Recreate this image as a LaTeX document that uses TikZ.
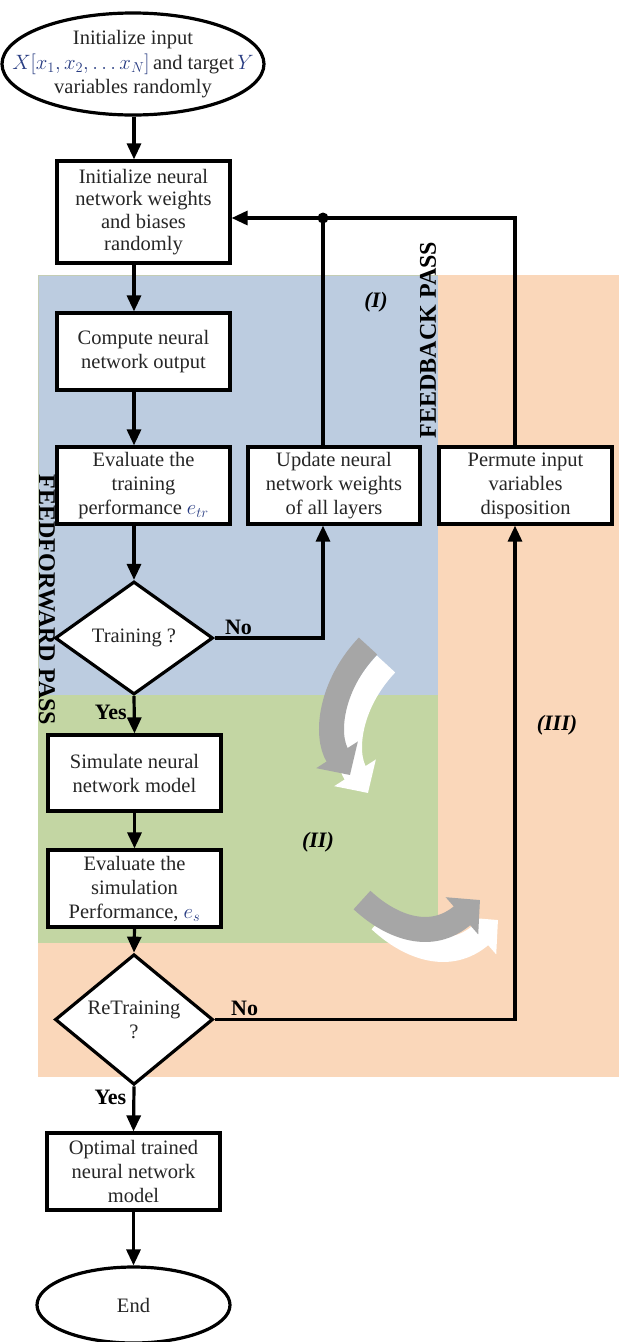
\documentclass[tikz,border=0pt]{standalone}
\usepackage{fontspec}
\setmainfont{Liberation Serif}
\usetikzlibrary{shapes.geometric,arrows.meta}
\definecolor{bluebg}{RGB}{188,204,224}
\definecolor{greenbg}{RGB}{195,214,163}
\definecolor{orangebg}{RGB}{250,215,186}
\definecolor{grayarr}{RGB}{166,166,166}
\definecolor{mathblue}{RGB}{40,60,130}
\begin{document}
\begin{tikzpicture}[x=1pt,y=-1pt,
  font=\fontsize{20.5}{24}\selectfont,
  box/.style={draw, line width=3.2pt, fill=white, minimum width=173pt, inner sep=0pt, align=center, text=black!85},
  dec/.style={draw, diamond, line width=3.2pt, fill=white, minimum width=158pt, minimum height=113pt, inner sep=0pt, align=center, text=black!85},
  term/.style={draw, ellipse, line width=3.2pt, fill=white, inner sep=0pt, align=center, text=black!85},
  arr/.style={line width=3.2pt, -{Triangle[length=16pt,width=14pt]}},
  conn/.style={line width=3.2pt},
  lab/.style={font=\fontsize{22}{24}\selectfont\bfseries, inner sep=2pt},
  reg/.style={font=\fontsize{22}{24}\selectfont\bfseries\itshape},
  pass/.style={font=\fontsize{24}{24}\selectfont\bfseries},
  bigarr/.style={line width=25pt, -{Triangle[length=24pt,width=48pt]}}
]
\useasboundingbox (0,0) rectangle (619,1342);
% background regions
\fill[orangebg] (38,275) rectangle (619,1077);
\fill[bluebg] (38,275) rectangle (438,695);
\draw[greenbg!80!black!60, line width=1pt] (38,695) -- (38,275) -- (438,275);
\fill[greenbg] (38,695) rectangle (438,943);
% curved arrows
\draw[bigarr, white] (386,664) .. controls (348,704) and (343,754) .. (368,793);
\draw[bigarr, grayarr] (368,646) .. controls (330,686) and (325,736) .. (350,775);
\draw[bigarr, white] (380,920) .. controls (410,948) and (450,962) .. (498,920);
\draw[bigarr, grayarr] (362,900) .. controls (392,928) and (432,942) .. (480,900);
% region labels
\node[reg] (r1) at (376,302) {(I)};
\node[reg] (r2) at (318,842) {(II)};
\node[reg] (r3) at (557,725) {(III)};
\node[pass, rotate=90] (fb) at (428,340) {FEEDBACK PASS};
\node[pass, rotate=-90] (ff) at (47,600) {FEEDFORWARD PASS};
% nodes
\node[term, minimum width=262pt, minimum height=102pt] (start) at (133,64) {};
\node[align=center, text=black!85, inner sep=0pt] (starttxt) at (start.center) {Initialize input\\[1pt] \color{mathblue}$X\bigl[x_1, x_2, \ldots x_N\bigr]$\color{black!85}\,and target\,\color{mathblue}$Y$\\ \color{black!85}variables randomly};
\node[box, minimum height=102pt, font=\fontsize{20.5}{22.5}\selectfont] (init) at (143.5,212) {Initialize neural\\network weights\\and biases\\randomly};
\node[box, minimum height=77pt] (comp) at (143.5,351.5) {Compute neural\\network output};
\node[box, minimum height=77pt] (evtr) at (143.5,485.5) {Evaluate the\\training\\performance {\color{mathblue}$e_{tr}$}};
\node[dec] (tr) at (134,638) {Training ?};
\node[box, minimum width=172pt, minimum height=77pt] (upd) at (334,485.5) {Update neural\\network weights\\of all layers};
\node[box, minimum height=77pt] (perm) at (525.5,485.5) {Permute input\\variables\\disposition};
\node[box, minimum height=76pt] (sim) at (134.5,773) {Simulate neural\\network model};
\node[box, minimum height=77pt] (evs) at (134.5,888.5) {Evaluate the\\simulation\\Performance, {\color{mathblue}$e_s$}};
\node[dec] (rt) at (134,1019.5) {ReTraining\\?};
\node[box, minimum height=77pt] (opt) at (133.5,1171.5) {Optimal trained\\neural network\\model};
\node[term, minimum width=193pt, minimum height=76pt] (end) at (133.5,1305) {End};
% helper coordinates
\coordinate (mx) at (134,0);
\coordinate (jn) at (323,218);
\coordinate (px) at (515,0);
% connectors
\draw[arr] (start.south -| mx) -- (init.north -| mx);
\draw[arr] (init.south -| mx) -- (comp.north -| mx);
\draw[arr] (comp.south -| mx) -- (evtr.north -| mx);
\draw[arr] (evtr.south -| mx) -- (tr.north);
\draw[arr] (tr.south) -- (sim.north) node[lab, pos=0.45, left=4pt] {Yes};
\draw[arr] (sim.south) -- (evs.north);
\draw[arr] (evs.south) -- (rt.north);
\draw[arr] (rt.south) -- (opt.north) node[lab, pos=0.25, left=4pt] {Yes};
\draw[arr] (opt.south) -- (end.north);
\draw[arr] (tr.east) -| (upd.south -| jn) node[lab, pos=0.11, above] {No};
\draw[conn] (upd.north -| jn) -- (jn);
\draw[conn] (perm.north -| px) |- (jn);
\draw[arr] (jn) -- (jn -| init.east);
\fill (jn) circle (5.5pt);
\draw[arr] (rt.east) -| (perm.south -| px) node[lab, pos=0.05, above] {No};
\end{tikzpicture}
\end{document}
